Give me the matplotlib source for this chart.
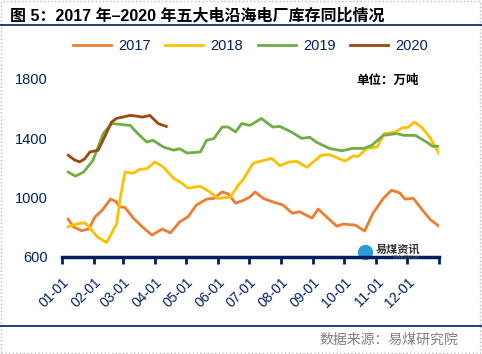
import matplotlib.pyplot as plt
from matplotlib.patches import Rectangle
from matplotlib.lines import Line2D

plt.rcParams['font.family'] = ['Liberation Sans', 'Noto Sans CJK SC', 'DejaVu Sans']

# 日序 (day of year) 与库存 (万吨)
days_2017 = [6, 11, 19, 26, 32, 39, 47, 52, 56, 61, 69, 77, 87, 97, 105, 114, 122, 130, 140, 147,
             155, 161, 168, 176, 182, 187, 195, 204, 214, 223, 230, 242, 248, 256, 266, 272, 284,
             293, 301, 311, 319, 327, 332, 340, 349, 357, 365]
vals_2017 = [855, 804, 777, 790, 871, 916, 990, 975, 938, 934, 862, 808, 748, 788, 763, 837, 871, 950, 990, 995,
             1039, 1025, 963, 983, 1005, 1039, 994, 972, 950, 895, 905, 862, 923, 871, 808, 822, 815,
             775, 895, 994, 1050, 1032, 990, 996, 916, 849, 808]

days_2018 = [6, 14, 22, 25, 34, 43, 48, 53, 56, 61, 69, 75, 82, 90, 98, 108, 116, 122, 134, 143,
             151, 163, 172, 175, 185, 193, 203, 211, 219, 227, 237, 251, 259, 274, 282, 287, 295,
             305, 312, 322, 330, 335, 341, 348, 356, 365]
vals_2018 = [804, 822, 831, 811, 737, 697, 760, 827, 983, 1173, 1164, 1190, 1195, 1240, 1207, 1131, 1097, 1064, 1077, 1039,
             994, 1005, 1097, 1118, 1232, 1247, 1265, 1214, 1239, 1245, 1205, 1286, 1290, 1247, 1281, 1279, 1332,
             1342, 1432, 1440, 1473, 1473, 1510, 1476, 1409, 1298]

days_2019 = [6, 13, 21, 30, 40, 48, 66, 72, 82, 88, 98, 108, 114, 121, 134, 140, 147, 155, 161, 168,
             174, 182, 193, 204, 211, 222, 232, 240, 246, 259, 271, 281, 292, 300, 311, 324, 331,
             342, 353, 359, 365]
vals_2019 = [1173, 1145, 1173, 1252, 1432, 1500, 1487, 1442, 1375, 1387, 1342, 1320, 1330, 1301, 1308, 1387, 1398, 1476, 1476, 1443,
             1500, 1487, 1534, 1476, 1480, 1443, 1400, 1407, 1375, 1332, 1316, 1332, 1332, 1353, 1420, 1432, 1420,
             1420, 1375, 1346, 1346]

days_2020 = [6, 12, 17, 22, 27, 35, 42, 48, 53, 60, 66, 72, 78, 85, 93, 101]
vals_2020 = [1286, 1255, 1241, 1262, 1308, 1320, 1420, 1510, 1535, 1545, 1555, 1550, 1543, 1555, 1500, 1480]

month_starts = [0, 31, 59, 90, 120, 151, 181, 212, 243, 273, 304, 334, 365]
month_labels = ['01-01', '02-01', '03-01', '04-01', '05-01', '06-01', '07-01',
                '08-01', '09-01', '10-01', '11-01', '12-01']

navy = '#002060'
colors = {'2017': '#ED7D31', '2018': '#FFC000', '2019': '#70AD47', '2020': '#9E480E'}

fig = plt.figure(figsize=(4.82, 3.54), dpi=100)
ax = fig.add_axes([62/482, 1 - 257/354, 377/482, 178/354])

ax.plot(days_2017, vals_2017, color=colors['2017'], linewidth=2, label='2017')
ax.plot(days_2018, vals_2018, color=colors['2018'], linewidth=2, label='2018')
ax.plot(days_2019, vals_2019, color=colors['2019'], linewidth=2, label='2019')
ax.plot(days_2020, vals_2020, color=colors['2020'], linewidth=2, label='2020')

ax.set_xlim(0, 365)
ax.set_ylim(600, 1800)
ax.set_yticks([600, 1000, 1400, 1800])
ax.tick_params(axis='y', length=0, labelsize=10.5, labelcolor=navy, pad=10)
ax.set_xticks(month_starts)
ax.set_xticklabels(month_labels + [''], rotation=45, ha='right', va='top',
                   rotation_mode='anchor', fontsize=10, color=navy)
ax.tick_params(axis='x', direction='out', length=5, width=2, color=navy, pad=8)
for s in ['top', 'right', 'left']:
    ax.spines[s].set_visible(False)
ax.spines['bottom'].set_color(navy)
ax.spines['bottom'].set_linewidth(2.5)
ax.set_facecolor('none')

leg = ax.legend(loc='upper center', bbox_to_anchor=(0.5, 1.3), ncol=4, frameon=False,
                fontsize=10.5, handlelength=2.6, columnspacing=1.0, handletextpad=0.5)
for t in leg.get_texts():
    t.set_color(navy)

ax.text(0.78, 0.99, '单位：万吨', transform=ax.transAxes, fontsize=9, fontweight='bold',
        ha='left', va='center')

# 水印
ax.text(0.95, 0.045, '易煤资讯', transform=ax.transAxes, fontsize=8, fontweight='bold',
        color='#333333', ha='right', va='center')
ax.text(0.95, -0.005, 'YiMeiZiXun', transform=ax.transAxes, fontsize=4, color='#555555',
        ha='right', va='center')
ax.plot([0.805], [0.03], 'o', transform=ax.transAxes, color='#2E9BD6', markersize=10, clip_on=False)

# 标题与边框
fig.text(10/482, 1 - 15/354, '图 5：2017 年–2020 年五大电沿海电厂库存同比情况', fontsize=11.5,
         fontweight='bold', ha='left', va='center', color='black')
fig.add_artist(Line2D([0, 1], [1 - 25/354, 1 - 25/354], color=navy, linewidth=1.2))
fig.add_artist(Line2D([0, 1], [1 - 326/354, 1 - 326/354], color=navy, linewidth=1.2))
fig.text(0.95, 1 - 340/354, '数据来源：易煤研究院', fontsize=10, ha='right', va='center', color='#808080')
fig.add_artist(Rectangle((0.002, 0.003), 0.994, 0.994, transform=fig.transFigure, fill=False,
                         edgecolor='#BBBBBB', linestyle=':', linewidth=1))

fig.savefig('out.png', dpi=100)
